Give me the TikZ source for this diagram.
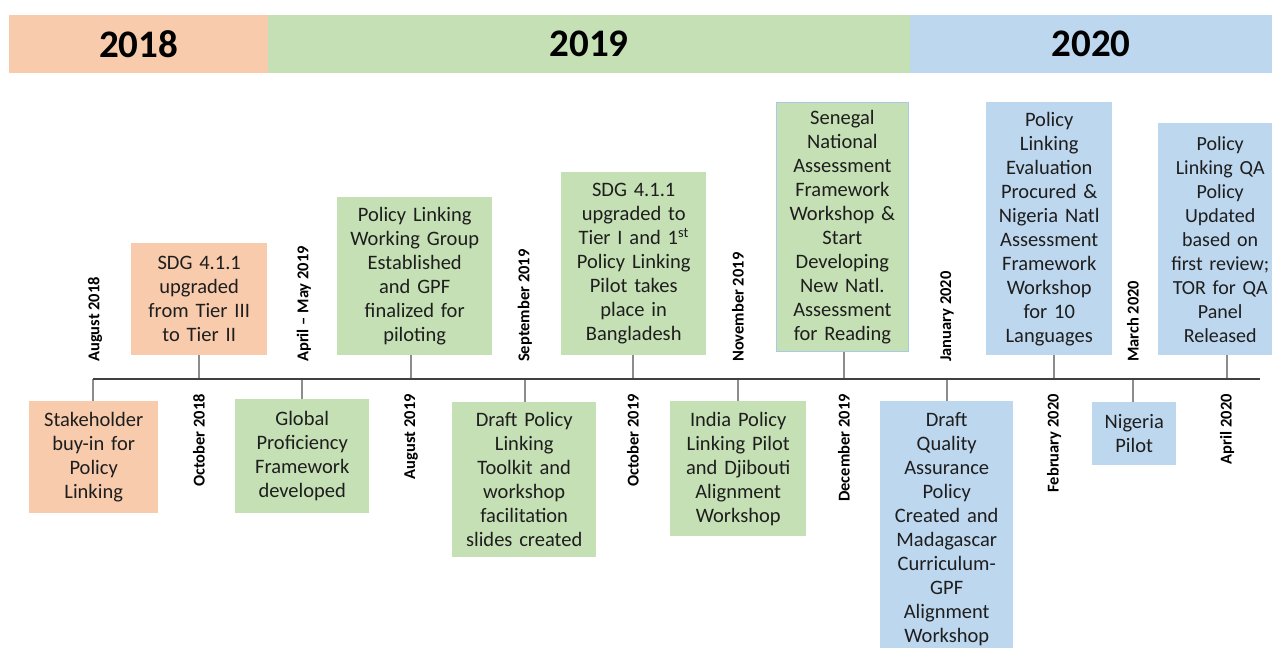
\documentclass[tikz,border=0pt]{standalone}
\usepackage{fontspec}
\setmainfont{Carlito}
\definecolor{org}{HTML}{F8CBAD}
\definecolor{grn}{HTML}{C5E0B4}
\definecolor{blu}{HTML}{BDD7EE}
\definecolor{txt}{HTML}{1E1E1E}
\definecolor{axisc}{HTML}{404040}
\definecolor{tickc}{HTML}{8C8C8C}
\definecolor{sgborder}{HTML}{A9C9E8}
\begin{document}
\begin{tikzpicture}[x=1pt,y=-1pt,
  box/.style={rectangle, anchor=north west, inner xsep=2pt, inner ysep=0pt, align=center,
    font=\fontsize{20.5}{24}\selectfont, text=txt},
  band/.style={rectangle, anchor=north west, inner sep=0pt, minimum height=58pt,
    font=\fontsize{39}{44}\selectfont\bfseries, text=black},
  datelbl/.style={rotate=90, inner sep=0pt, font=\fontsize{16.5}{18}\selectfont\bfseries, text=black},
  axisline/.style={draw=axisc, line width=2pt},
  tickline/.style={draw=tickc, line width=1.1pt}]
\clip (0,0) rectangle (1272,648);
\fill[white] (0,0) rectangle (1272,648);

% year bands
\node[band, fill=org, minimum width=259pt] (y18) at (9,15) {2018};
\node[band, fill=grn, minimum width=642pt] (y19) at (268,15) {2019};
\node[band, fill=blu, minimum width=362pt] (y20) at (910,15) {2020};

% axis and tick positions
\coordinate (tl0) at (93,379);
\coordinate (tl1) at (1260,379);
\coordinate (t1) at (93,379);
\coordinate (t2) at (199,379);
\coordinate (t3) at (302,379);
\coordinate (t4) at (411,379);
\coordinate (t5) at (525,379);
\coordinate (t6) at (633,379);
\coordinate (t7) at (738,379);
\coordinate (t8) at (844,379);
\coordinate (t9) at (947,379);
\coordinate (t10) at (1054,379);
\coordinate (t11) at (1133,379);
\coordinate (t12) at (1227,379);

% boxes
\node[box, fill=org, minimum height=112pt, text width=125pt] (b1) at (29,401) {Stakeholder\\buy-in for\\Policy\\Linking};
\node[box, fill=org, minimum height=112pt, text width=132pt] (b2) at (131,243) {SDG 4.1.1\\upgraded\\from Tier III\\to Tier II};
\node[box, fill=grn, minimum height=114pt, text width=130pt] (b3) at (235,399) {Global\\Proficiency\\Framework\\developed};
\node[box, fill=grn, minimum height=158pt, text width=151pt] (b4) at (337,197) {Policy Linking\\Working Group\\Established\\and GPF\\finalized for\\piloting};
\node[box, fill=grn, minimum height=155pt, text width=140pt] (b5) at (452,402) {Draft Policy\\Linking\\Toolkit and\\workshop\\facilitation\\slides created};
\node[box, fill=grn, minimum height=183pt, text width=141pt] (b6) at (561,172) {SDG 4.1.1\\upgraded to\\Tier I and 1\textsuperscript{st}\\Policy Linking\\Pilot takes\\place in\\Bangladesh};
\node[box, fill=grn, minimum height=135pt, text width=132pt] (b7) at (670,401) {India Policy\\Linking Pilot\\and Djibouti\\Alignment\\Workshop};
\node[box, fill=grn, draw=sgborder, line width=0.8pt, minimum height=249pt, text width=128pt] (b8) at (776,102) {Senegal\\National\\Assessment\\Framework\\Workshop \&\\Start\\Developing\\New Natl.\\Assessment\\for Reading};
\node[box, fill=blu, minimum height=256pt, text width=129pt] (b9) at (880,401) {Draft\\Quality\\Assurance\\Policy\\Created and\\Madagascar\\Curriculum-\\GPF\\Alignment\\Workshop};
\node[box, fill=blu, minimum height=253pt, text width=122pt] (b10) at (986,102) {Policy\\Linking\\Evaluation\\Procured \&\\Nigeria Natl\\Assessment\\Framework\\Workshop\\for 10\\Languages};
\node[box, fill=blu, minimum height=63pt, text width=80pt] (b11) at (1092,402) {Nigeria\\Pilot};
\node[box, fill=blu, minimum height=232pt, text width=120pt, font=\fontsize{20}{24}\selectfont] (b12) at (1158,123) {Policy\\Linking QA\\Policy\\Updated\\based on\\first review;\\TOR for QA\\Panel\\Released};
\fill[blu] (b12.north east) rectangle (1272,355);

% ticks
\draw[tickline] (t1) -- (t1 |- b1.north);
\draw[tickline] (t2) -- (t2 |- b2.south);
\draw[tickline] (t3) -- (t3 |- b3.north);
\draw[tickline] (t4) -- (t4 |- b4.south);
\draw[tickline] (t5) -- (t5 |- b5.north);
\draw[tickline] (t6) -- (t6 |- b6.south);
\draw[tickline] (t7) -- (t7 |- b7.north);
\draw[tickline] (t8) -- (t8 |- b8.south);
\draw[tickline] (t9) -- (t9 |- b9.north);
\draw[tickline] (t10) -- (t10 |- b10.south);
\draw[tickline] (t11) -- (t11 |- b11.north);
\draw[tickline] (t12) -- (t12 |- b12.south);

% axis
\draw[axisline] (tl0) -- (tl1);

% date labels
\node[datelbl, anchor=west] (d1) at (95,362) {August 2018};
\node[datelbl, anchor=east] (d2) at (199,394) {October 2018};
\node[datelbl, anchor=west] (d3) at (304,362) {April – May 2019};
\node[datelbl, anchor=east] (d4) at (411,394) {August 2019};
\node[datelbl, anchor=west] (d5) at (525,362) {September 2019};
\node[datelbl, anchor=east] (d6) at (633,394) {October 2019};
\node[datelbl, anchor=west] (d7) at (738,362) {November 2019};
\node[datelbl, anchor=east] (d8) at (844,394) {December 2019};
\node[datelbl, anchor=west] (d9) at (947,362) {January 2020};
\node[datelbl, anchor=east] (d10) at (1054,394) {February 2020};
\node[datelbl, anchor=west] (d11) at (1133,362) {March 2020};
\node[datelbl, anchor=east] (d12) at (1227,394) {April 2020};
\end{tikzpicture}
\end{document}
